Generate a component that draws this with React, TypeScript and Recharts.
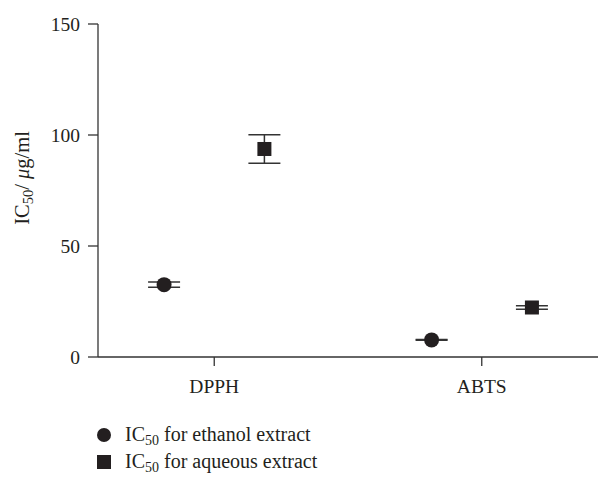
import React from 'react';
import { ScatterChart, Scatter, XAxis, YAxis, ErrorBar, Legend } from 'recharts';

const categories = ['DPPH', 'ABTS'];
const ethanolMeans = [32.6, 7.7];
const ethanolSD = [1.2, 0.2];
const aqueousMeans = [93.7, 22.3];
const aqueousSD = [6.4, 0.75];
const yTicks = [0, 50, 100, 150];

const groupOffset = 0.1875;
const xDomain: [number, number] = [0.5655, 2.4345];

const ethanolData = categories.map((c, i) => ({ name: c, x: i + 1 - groupOffset, y: ethanolMeans[i], err: ethanolSD[i] }));
const aqueousData = categories.map((c, i) => ({ name: c, x: i + 1 + groupOffset, y: aqueousMeans[i], err: aqueousSD[i] }));

const INK = '#231f20';
const AXIS = '#333333';
const FONT = "'Liberation Serif', 'Times New Roman', serif";

const CircleShape = (p: any) => <circle cx={p.cx} cy={p.cy} r={7.5} fill={INK} />;
const SquareShape = (p: any) => <rect x={p.cx - 7} y={p.cy - 7} width={14} height={14} fill={INK} />;

const YLabel = () => (
  <text
    transform="translate(29,178) rotate(-90)"
    textAnchor="middle"
    fontFamily={FONT}
    fontSize={20.5}
    fill={INK}
  >
    <tspan>IC</tspan>
    <tspan fontSize={14.5} dy={4}>50</tspan>
    <tspan dy={-4}>/ </tspan>
    <tspan fontStyle="italic">μ</tspan>
    <tspan>g/ml</tspan>
  </text>
);

const subStyle: React.CSSProperties = { fontFamily: FONT, fontSize: 14, verticalAlign: '-4px', lineHeight: 0 };
const textStyle: React.CSSProperties = { fontFamily: FONT, fontSize: 20, color: INK };

const LegendContent = () => (
  <div style={{ fontFamily: FONT, fontSize: 20, color: INK, lineHeight: '27px' }}>
    <div style={{ display: 'flex', alignItems: 'center', whiteSpace: 'nowrap' }}>
      <svg width={16} height={16} style={{ marginRight: 13 }}>
        <circle cx={8} cy={8} r={7} fill={INK} />
      </svg>
      <span style={textStyle}>IC<sub style={subStyle}>50</sub> for ethanol extract</span>
    </div>
    <div style={{ display: 'flex', alignItems: 'center', whiteSpace: 'nowrap' }}>
      <svg width={16} height={16} style={{ marginRight: 13 }}>
        <rect x={1} y={1} width={14} height={14} fill={INK} />
      </svg>
      <span style={textStyle}>IC<sub style={subStyle}>50</sub> for aqueous extract</span>
    </div>
  </div>
);

export default function App() {
  return (
    <div style={{ position: 'absolute', left: 0, top: 0, width: 598, height: 478, background: '#fff', fontFamily: FONT }}>
      <ScatterChart width={598} height={478} margin={{ top: 24, right: 0, bottom: 91, left: 0 }}>
        <XAxis
          type="number"
          dataKey="x"
          domain={xDomain}
          ticks={[1, 2]}
          allowDataOverflow
          tickFormatter={(v: number) => categories[Math.round(v) - 1]}
          height={30}
          tickSize={9}
          tickMargin={13}
          stroke={AXIS}
          strokeWidth={1.3}
          tick={{ fill: INK, fontFamily: FONT, fontSize: 19.5 }}
        />
        <YAxis
          type="number"
          dataKey="y"
          domain={[0, 150]}
          ticks={yTicks}
          width={98}
          tickSize={10}
          tickMargin={8}
          stroke={AXIS}
          strokeWidth={1.3}
          tick={{ fill: INK, fontFamily: FONT, fontSize: 19.5 }}
          label={<YLabel />}
        />
        <Scatter data={ethanolData} shape={CircleShape} isAnimationActive={false} name="ethanol">
          <ErrorBar dataKey="err" direction="y" width={16} stroke={AXIS} strokeWidth={1.5} />
        </Scatter>
        <Scatter data={aqueousData} shape={SquareShape} isAnimationActive={false} name="aqueous">
          <ErrorBar dataKey="err" direction="y" width={16} stroke={AXIS} strokeWidth={1.5} />
        </Scatter>
        <Legend
          content={<LegendContent />}
          wrapperStyle={{ position: 'absolute', left: 96, top: 421, width: 400, height: 0, overflow: 'visible', fontFamily: FONT }}
        />
      </ScatterChart>
    </div>
  );
}
